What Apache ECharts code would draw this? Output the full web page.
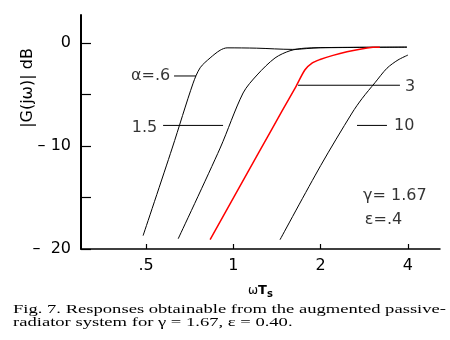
<!DOCTYPE html>
<html>
<head>
<meta charset="utf-8">
<script src="https://cdn.jsdelivr.net/npm/echarts@6.0.0/dist/echarts.min.js"></script>
<style>
  html, body { margin: 0; padding: 0; background: #fff; }
  #chart { width: 450px; height: 340px; }
</style>
</head>
<body>
<div id="chart"></div>
<script>
// Axis ticks
const xTicks = [0.5, 1, 2, 4];
const xTickLabels = ['.5', '1', '2', '4'];
const yTicks = [-20, -15, -10, -5, 0];
const yLabelValues = [-20, -10, 0];
const yTickLabels = ['–  20', '– 10', '0'];

// Responses |G(jω)| in dB against ωTs, one per α
const alpha06 = [[0.488, -18.7], [0.615, -10.2], [0.726, -3.9], [0.768, -2.4], [0.831, -1.45],
  [0.900, -0.7], [0.951, -0.47], [1.2, -0.5], [1.6, -0.62], [2.0, -0.45], [3.97, -0.4]];
const alpha15 = [[0.645, -19.0], [0.900, -10.2], [1.080, -4.85], [1.207, -3.1], [1.392, -1.45],
  [1.568, -0.75], [1.766, -0.5], [2.2, -0.45], [3.97, -0.4]];
const alpha3 = [[0.831, -19.1], [1.236, -10.4], [1.472, -6.6], [1.645, -4.2], [1.766, -2.6],
  [1.867, -1.95], [1.990, -1.6], [2.206, -1.2], [2.465, -0.85], [2.733, -0.6], [3.03, -0.42], [3.2, -0.4]];
const alpha10 = [[1.448, -19.1], [2.00, -11.9], [2.565, -6.8], [2.777, -5.4], [3.079, -3.85],
  [3.386, -2.45], [3.695, -1.65], [4.0, -1.17]];

// Leader lines from the curve labels
const leader06 = [[0.624, -3.2], [0.743, -3.2]];
const leader15 = [[0.572, -8.0], [0.921, -8.0]];
const leader3 = [[1.671, -4.1], [3.754, -4.1]];
const leader10 = [[2.669, -8.0], [3.386, -8.0]];

// Curve and parameter labels, anchored in data units
const labelTexts = ['α=.6', '1.5', '3', '10', 'γ= 1.67', 'ε=.4'];
const labelAnchors = [[0.605, -3.2], [0.546, -8.2], [3.906, -4.25], [3.58, -8.05], [2.80, -14.8], [2.84, -17.2]];
const labelRightAligned = [true, true, false, false, false, false];

const captionLines = [
  'Fig. 7. Responses obtainable from the augmented passive-',
  'radiator system for γ = 1.67, ε = 0.40.'
];

const SANS = '"DejaVu Sans", sans-serif';
const SERIF = '"Liberation Serif", "DejaVu Serif", serif';

// Stretch the caption to the printed line length
const measureCtx = document.createElement('canvas').getContext('2d');
const captionFont = '12px ' + SERIF;
measureCtx.font = captionFont;
const captionScale = 433 / measureCtx.measureText(captionLines[0]).width;

function curve(data, color, width) {
  return {
    type: 'line', data: data, showSymbol: false, smooth: 0.3,
    lineStyle: { color: color, width: width }, z: 3, silent: true
  };
}
function leader(data) {
  return {
    type: 'line', data: data, showSymbol: false,
    lineStyle: { color: '#000', width: 1 }, z: 2, silent: true
  };
}

const chart = echarts.init(document.getElementById('chart'), null, { renderer: 'canvas' });
chart.setOption({
  animation: false,
  backgroundColor: '#fff',
  grid: { left: 81, top: 15, width: 359, height: 234 },
  xAxis: {
    type: 'log', logBase: 2, min: 0.298, max: 5.16,
    name: '{w|ω}{t|T}{s|s}', nameLocation: 'middle', nameGap: 34,
    nameTextStyle: {
      rich: {
        w: { fontSize: 12, fontFamily: SANS, color: '#000' },
        t: { fontSize: 13, fontWeight: 'bold', fontFamily: SANS, color: '#000' },
        s: { fontSize: 10, fontWeight: 'bold', fontFamily: SANS, color: '#000', padding: [6, 0, 0, 0] }
      }
    },
    axisLine: { onZero: false, lineStyle: { color: '#000', width: 1.5 } },
    axisTick: { inside: true, length: 5, customValues: xTicks, lineStyle: { color: '#000', width: 1.2 } },
    axisLabel: {
      customValues: xTicks, margin: 9, color: '#000', fontSize: 16, fontFamily: SANS,
      formatter: function (v) {
        const i = xTicks.findIndex(t => Math.abs(t - v) < 1e-6);
        return i >= 0 ? xTickLabels[i] : '';
      }
    },
    splitLine: { show: false }, minorTick: { show: false }
  },
  yAxis: {
    type: 'value', min: -20, max: 2.72,
    axisLine: { show: true, onZero: false, lineStyle: { color: '#000', width: 2 } },
    axisTick: { show: true, inside: true, length: 10, customValues: yTicks, lineStyle: { color: '#000', width: 1.2 } },
    axisLabel: {
      customValues: yLabelValues, margin: 10, color: '#000', fontSize: 16, fontFamily: SANS,
      formatter: function (v) {
        const i = yLabelValues.indexOf(v);
        return i >= 0 ? yTickLabels[i] : '';
      }
    },
    splitLine: { show: false }
  },
  series: [
    curve(alpha06, '#000', 1),
    curve(alpha15, '#000', 1),
    curve(alpha3, '#ff0000', 1.5),
    curve(alpha10, '#000', 1),
    leader(leader06), leader(leader15), leader(leader3), leader(leader10),
    {
      type: 'scatter', symbolSize: 0, silent: true, z: 4,
      data: labelTexts.map((t, i) => ({
        name: t, value: labelAnchors[i],
        label: { align: labelRightAligned[i] ? 'right' : 'left' }
      })),
      label: {
        show: true, position: [0, 0], verticalAlign: 'middle',
        formatter: '{b}', color: '#000', fontSize: 16, fontFamily: SANS
      }
    }
  ],
  graphic: [
    {
      type: 'text', x: 28, y: 88, rotation: Math.PI / 2,
      style: { text: '|G(jω)| dB', font: '16px ' + SANS, fill: '#000', align: 'center', verticalAlign: 'middle' }
    },
    {
      type: 'text', x: 13, y: 310, scaleX: captionScale,
      style: { text: captionLines[0], font: captionFont, fill: '#000', verticalAlign: 'middle' }
    },
    {
      type: 'text', x: 13, y: 323, scaleX: captionScale,
      style: { text: captionLines[1], font: captionFont, fill: '#000', verticalAlign: 'middle' }
    }
  ]
});
</script>
</body>
</html>
